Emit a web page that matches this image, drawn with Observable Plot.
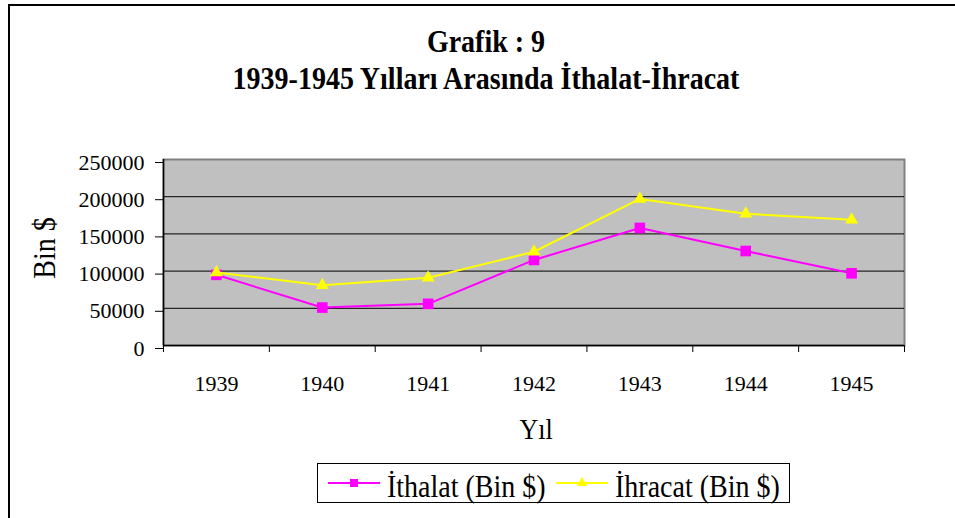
<!DOCTYPE html>
<html>
<head>
<meta charset="utf-8">
<script src="https://cdn.jsdelivr.net/npm/d3@7"></script>
<script src="https://cdn.jsdelivr.net/npm/@observablehq/plot@0.6"></script>
<style>
  html, body { margin: 0; padding: 0; background: #fff; }
  #wrap { position: relative; width: 955px; height: 518px; overflow: hidden; font-family: "Liberation Serif", "Times New Roman", serif; color: #000; }
  #border { position: absolute; left: 8px; top: 4px; width: 960px; height: 540px; border: 2px solid #000; box-sizing: border-box; }
  .t { position: absolute; white-space: nowrap; line-height: 1; }
  #plot { position: absolute; left: 0; top: 0; }
  #plot svg { display: block; }
  #legend { position: absolute; left: 317px; top: 463px; width: 473px; height: 40px; border: 1px solid #000; box-sizing: border-box; background: #fff; }
</style>
</head>
<body>
<div id="wrap">
  <div id="border"></div>
  <div id="plot"></div>
  <div class="t" id="title" style="left:0;width:972px;text-align:center;top:28.5px;font-size:28px;font-weight:bold;transform-origin:50% 23.45px;transform:scaleY(1.15);">Grafik : 9</div>
  <div class="t" id="subtitle" style="left:0;width:972px;text-align:center;top:66px;font-size:28px;font-weight:bold;transform-origin:50% 23.45px;transform:scaleY(1.15);">1939-1945 Yılları Arasında İthalat-İhracat</div>
  <div class="t" id="ylabel" style="left:45px;top:248px;font-size:28px;transform:translate(-50%,-50%) rotate(-90deg) scaleY(1.13);">Bin $</div>
  <div class="t" id="xlabel" style="left:536px;top:417.5px;font-size:26px;transform-origin:50% 21.8px;transform:translateX(-50%) scaleY(1.13);">Yıl</div>
  <div id="legend"></div>
</div>
<script>
// ---- data ----
const years = [1939, 1940, 1941, 1942, 1943, 1944, 1945];
const ithalat = [95000, 51000, 56000, 115000, 158000, 127000, 97000];
const ihracat = [98000, 81000, 91000, 126000, 197000, 177000, 169000];
const yTicks = [0, 50000, 100000, 150000, 200000, 250000];
const seriesNames = ["İthalat (Bin $)", "İhracat (Bin $)"];
const seriesColors = ["#ff00ff", "#ffff00"];

const rows = years.map((y, i) => ({year: y, ithalat: ithalat[i], ihracat: ihracat[i]}));
const bounds = [...years.map(y => y - 0.5), years[years.length - 1] + 0.5];
const font = "'Liberation Serif', 'Times New Roman', serif";

const chart = Plot.plot({
  width: 955,
  height: 518,
  marginLeft: 163,
  marginRight: 51,
  marginTop: 159,
  marginBottom: 173,
  style: {background: "transparent", fontFamily: font, fontSize: "22px", color: "#000", overflow: "visible"},
  x: {domain: [bounds[0], bounds[bounds.length - 1]]},
  y: {domain: [0, 250000]},
  marks: [
    Plot.frame({fill: "#c0c0c0", stroke: "#808080", strokeWidth: 2}),
    Plot.gridY(yTicks.slice(1, -1), {stroke: "#000", strokeOpacity: 1, strokeWidth: 1}),
    Plot.ruleX([bounds[0]], {stroke: "#000", strokeWidth: 1.5}),
    Plot.ruleY([0], {stroke: "#000", strokeWidth: 1.5}),
    Plot.axisY(yTicks, {tickSize: 8, tickPadding: 11, tickFormat: d => String(d), fontSize: 22, dy: 3, label: null}),
    Plot.axisX(bounds, {tickSize: 7, tickFormat: () => "", label: null}),
    Plot.axisX(years, {tickSize: 0, tickPadding: 30, tickFormat: d => String(d), fontSize: 22, label: null}),
    Plot.line(rows, {x: "year", y: "ithalat", stroke: seriesColors[0], strokeWidth: 2}),
    Plot.dot(rows, {x: "year", y: "ithalat", symbol: "square", r: 6, fill: seriesColors[0], stroke: "none"}),
    Plot.line(rows, {x: "year", y: "ihracat", stroke: seriesColors[1], strokeWidth: 2}),
    Plot.dot(rows, {x: "year", y: "ihracat", symbol: "triangle", r: 4.8, fill: seriesColors[1], stroke: "none"})
  ]
});
document.getElementById("plot").appendChild(chart);

// ---- legend ----
const legend = document.getElementById("legend");
const items = [
  {name: seriesNames[0], color: seriesColors[0], sym: "square", lineX: 10, textX: 69},
  {name: seriesNames[1], color: seriesColors[1], sym: "triangle", lineX: 238, textX: 297}
];
items.forEach(it => {
  const sw = document.createElementNS("http://www.w3.org/2000/svg", "svg");
  sw.setAttribute("width", 54);
  sw.setAttribute("height", 20);
  sw.style.position = "absolute";
  sw.style.left = it.lineX + "px";
  sw.style.top = "9px";
  const ln = document.createElementNS(sw.namespaceURI, "line");
  ln.setAttribute("x1", 0); ln.setAttribute("x2", 52); ln.setAttribute("y1", 10); ln.setAttribute("y2", 10);
  ln.setAttribute("stroke", it.color); ln.setAttribute("stroke-width", 2);
  sw.appendChild(ln);
  const p = document.createElementNS(sw.namespaceURI, "path");
  const sym = it.sym === "square" ? d3.symbolSquare : d3.symbolTriangle;
  const size = it.sym === "square" ? 64 : 48;
  p.setAttribute("d", d3.symbol(sym, size)());
  p.setAttribute("transform", "translate(26,10)");
  p.setAttribute("fill", it.color);
  sw.appendChild(p);
  legend.appendChild(sw);
  const tx = document.createElement("div");
  tx.className = "t";
  tx.textContent = it.name;
  tx.style.left = it.textX + "px";
  tx.style.top = "10px";
  tx.style.fontSize = "28px";
  tx.style.transformOrigin = "0 23.45px";
  tx.style.transform = "scaleY(1.14)";
  legend.appendChild(tx);
});
</script>
</body>
</html>
